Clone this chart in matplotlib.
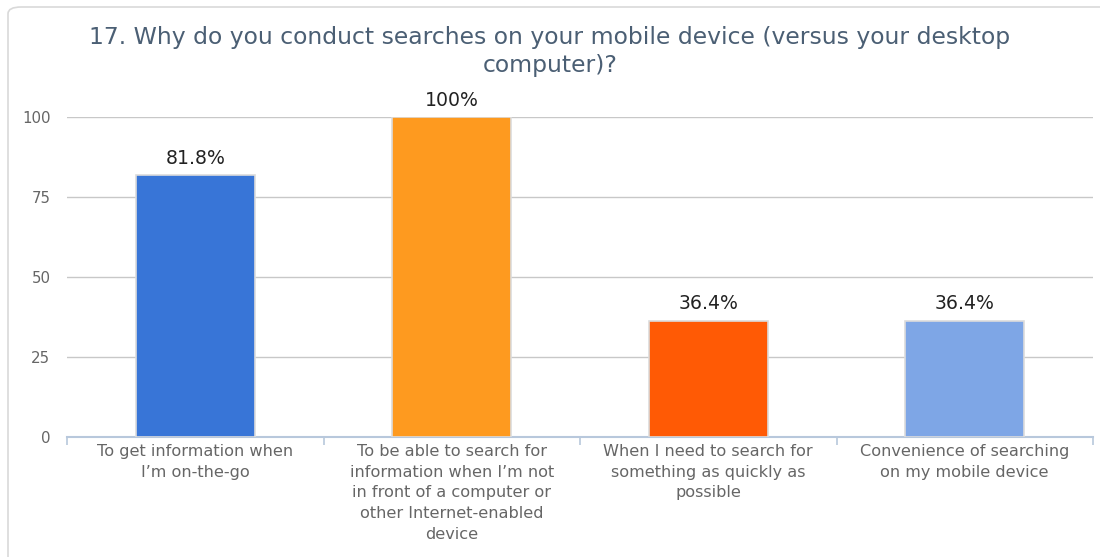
import matplotlib.pyplot as plt
from matplotlib.patches import FancyBboxPatch

plt.rcParams['font.family'] = ['DejaVu Sans']

# survey answers and share of respondents (%)
categories = [
    "To get information when\nI\u2019m on-the-go",
    "To be able to search for\ninformation when I\u2019m not\nin front of a computer or\nother Internet-enabled\ndevice",
    "When I need to search for\nsomething as quickly as\npossible",
    "Convenience of searching\non my mobile device",
]
values = [81.8, 100, 36.4, 36.4]
value_labels = ["81.8%", "100%", "36.4%", "36.4%"]
bar_colors = ["#3875d7", "#fe9a1f", "#ff5a05", "#7ea6e6"]
y_ticks = [0, 25, 50, 75, 100]

title = "17. Why do you conduct searches on your mobile device (versus your desktop\ncomputer)?"

fig = plt.figure(figsize=(11, 5.57), dpi=100)
fig.patch.set_facecolor("white")

# light rounded frame around the panel
frame = FancyBboxPatch((8 / 1100, -0.05), 1.2, 1.05 - 7 / 557,
                       boxstyle="round,pad=0,rounding_size=0.012",
                       transform=fig.transFigure, facecolor="none",
                       edgecolor="#d9d9d9", linewidth=1.2)
fig.patches.append(frame)

ax = fig.add_axes([67 / 1100, 120 / 557, (1093 - 67) / 1100, 320 / 557])

x = range(len(values))
bars = ax.bar(x, values, width=0.465, color=bar_colors,
              edgecolor="#dcdcdc", linewidth=1.2, zorder=3)

for b, lab in zip(bars, value_labels):
    ax.annotate(lab, (b.get_x() + b.get_width() / 2, b.get_height()),
                xytext=(0, 5.2), textcoords="offset points",
                ha="center", va="bottom", fontsize=13.6, color="#222222")

ax.set_xlim(-0.5, len(values) - 0.5)
ax.set_ylim(0, 100)
ax.set_yticks(y_ticks)
ax.yaxis.grid(True, color="#c8c8c8", linewidth=1, zorder=0)
ax.tick_params(axis="y", length=0, pad=12, labelsize=10.8, labelcolor="#666666")

ax.set_xticks(list(x))
ax.set_xticklabels(categories, fontsize=11.6, color="#666666", linespacing=1.47)
ax.set_xticks([i - 0.5 for i in range(len(values) + 1)], minor=True)
ax.tick_params(axis="x", which="major", length=0, pad=5)
ax.tick_params(axis="x", which="minor", length=6, color="#b8c8dc", width=1.2)

for side in ["top", "right", "left"]:
    ax.spines[side].set_visible(False)
ax.spines["bottom"].set_color("#b8c8dc")
ax.spines["bottom"].set_linewidth(1.5)

fig.text(0.5, 0.907, title, ha="center", va="center", fontsize=16.9,
         color="#4b5f74", linespacing=1.28)

plt.savefig("out.png", dpi=100, facecolor="white")
